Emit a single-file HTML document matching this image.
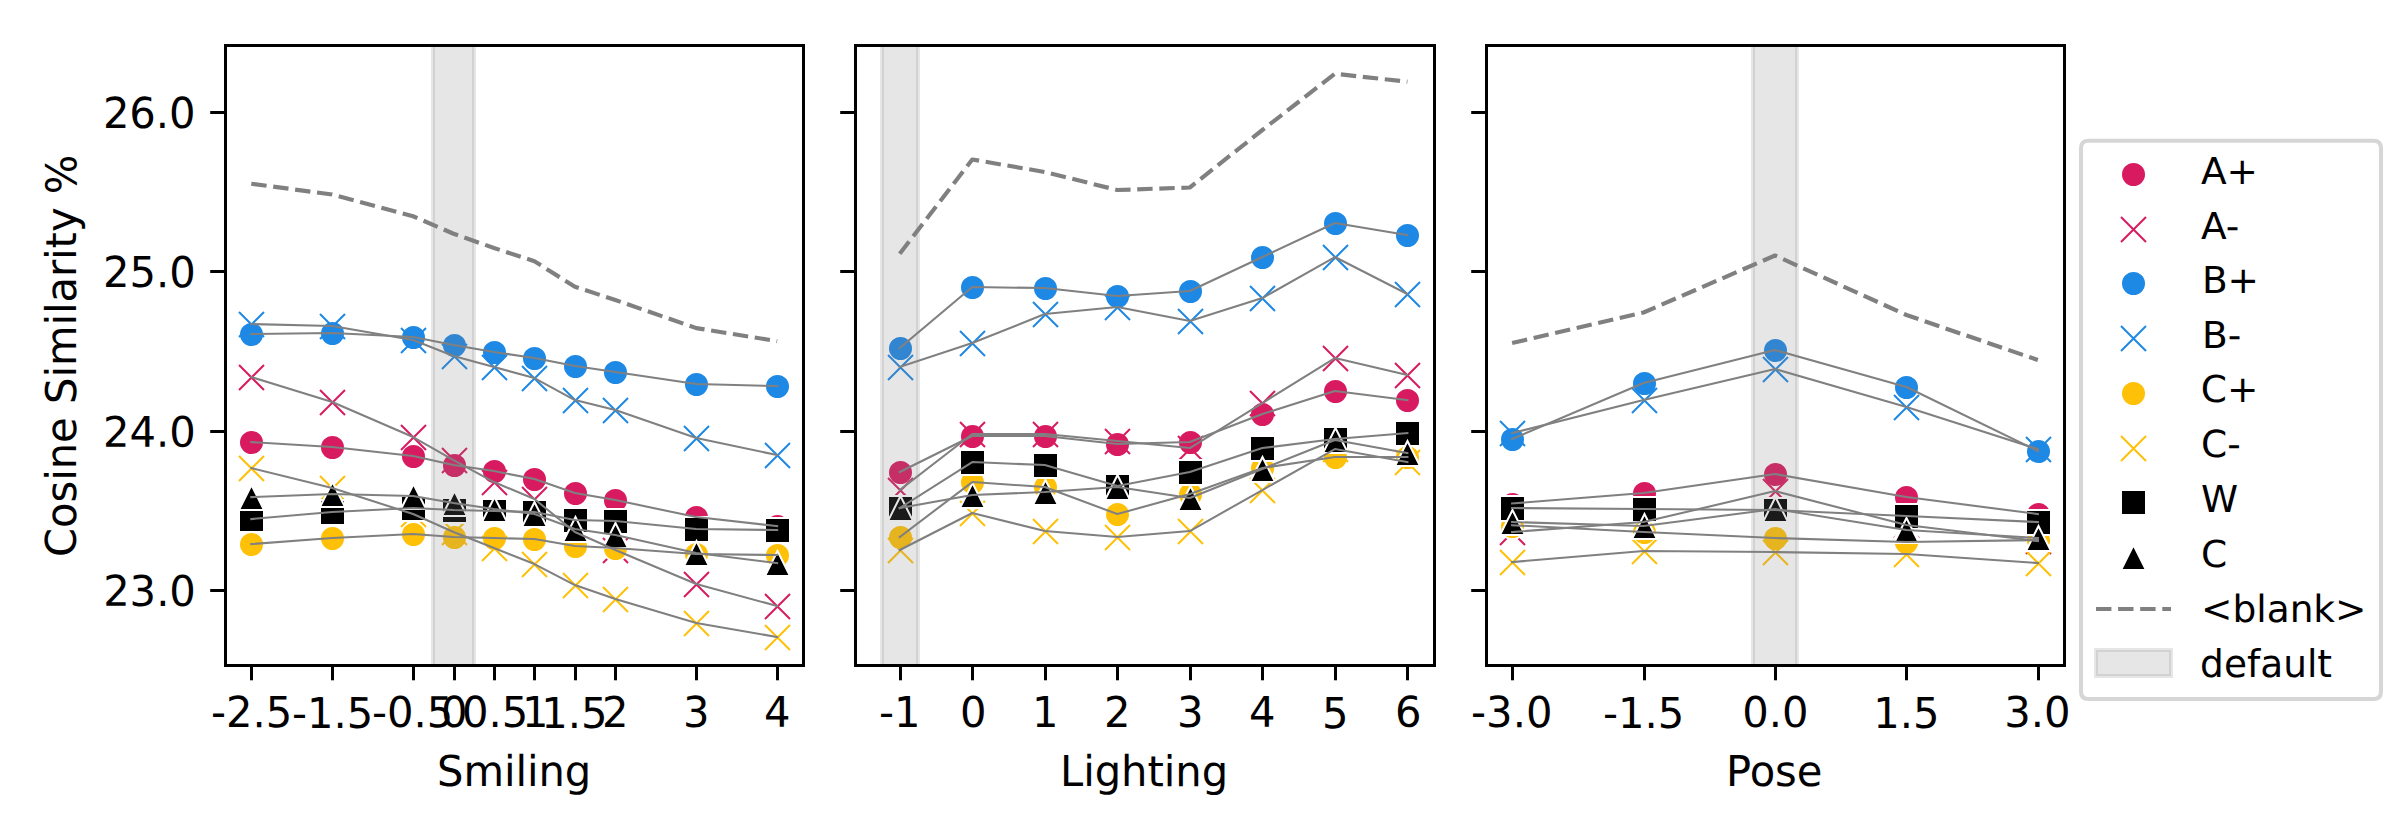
<!DOCTYPE html>
<html lang="en"><head><meta charset="utf-8"><title>Cosine Similarity</title>
<style>html,body{margin:0;padding:0;background:#fff}svg{display:block}text{font-family:"DejaVu Sans", "Liberation Sans", sans-serif;fill:#000}.t{font-size:41.67px}.l{font-size:37.5px}</style></head><body>
<svg width="2400" height="840" viewBox="0 0 2400 840">
<rect width="2400" height="840" fill="#fff"/>
<g id="panel1">
<clipPath id="cp0"><rect x="225.5" y="45.5" width="578.0" height="620.0"/></clipPath>
<g clip-path="url(#cp0)">
<circle cx="251.50" cy="442.50" r="12.5" fill="#D81B60" stroke="#fff" stroke-width="2.0"/>
<circle cx="332.50" cy="447.50" r="12.5" fill="#D81B60" stroke="#fff" stroke-width="2.0"/>
<circle cx="413.50" cy="456.50" r="12.5" fill="#D81B60" stroke="#fff" stroke-width="2.0"/>
<circle cx="454.50" cy="465.50" r="12.5" fill="#D81B60" stroke="#fff" stroke-width="2.0"/>
<circle cx="494.50" cy="471.50" r="12.5" fill="#D81B60" stroke="#fff" stroke-width="2.0"/>
<circle cx="534.50" cy="479.50" r="12.5" fill="#D81B60" stroke="#fff" stroke-width="2.0"/>
<circle cx="575.50" cy="493.50" r="12.5" fill="#D81B60" stroke="#fff" stroke-width="2.0"/>
<circle cx="615.50" cy="500.50" r="12.5" fill="#D81B60" stroke="#fff" stroke-width="2.0"/>
<circle cx="696.50" cy="517.50" r="12.5" fill="#D81B60" stroke="#fff" stroke-width="2.0"/>
<circle cx="777.50" cy="526.50" r="12.5" fill="#D81B60" stroke="#fff" stroke-width="2.0"/>
<path d="M239.00 365.00L264.00 390.00M239.00 390.00L264.00 365.00" fill="none" stroke="#D81B60" stroke-width="2.0"/>
<path d="M320.00 390.00L345.00 415.00M320.00 415.00L345.00 390.00" fill="none" stroke="#D81B60" stroke-width="2.0"/>
<path d="M401.00 425.00L426.00 450.00M401.00 450.00L426.00 425.00" fill="none" stroke="#D81B60" stroke-width="2.0"/>
<path d="M442.00 448.00L467.00 473.00M442.00 473.00L467.00 448.00" fill="none" stroke="#D81B60" stroke-width="2.0"/>
<path d="M482.00 470.00L507.00 495.00M482.00 495.00L507.00 470.00" fill="none" stroke="#D81B60" stroke-width="2.0"/>
<path d="M522.00 487.00L547.00 512.00M522.00 512.00L547.00 487.00" fill="none" stroke="#D81B60" stroke-width="2.0"/>
<path d="M563.00 520.00L588.00 545.00M563.00 545.00L588.00 520.00" fill="none" stroke="#D81B60" stroke-width="2.0"/>
<path d="M603.00 538.00L628.00 563.00M603.00 563.00L628.00 538.00" fill="none" stroke="#D81B60" stroke-width="2.0"/>
<path d="M684.00 572.00L709.00 597.00M684.00 597.00L709.00 572.00" fill="none" stroke="#D81B60" stroke-width="2.0"/>
<path d="M765.00 594.00L790.00 619.00M765.00 619.00L790.00 594.00" fill="none" stroke="#D81B60" stroke-width="2.0"/>
<circle cx="251.50" cy="334.50" r="12.5" fill="#1E88E5" stroke="#fff" stroke-width="2.0"/>
<circle cx="332.50" cy="333.50" r="12.5" fill="#1E88E5" stroke="#fff" stroke-width="2.0"/>
<circle cx="413.50" cy="337.50" r="12.5" fill="#1E88E5" stroke="#fff" stroke-width="2.0"/>
<circle cx="454.50" cy="345.50" r="12.5" fill="#1E88E5" stroke="#fff" stroke-width="2.0"/>
<circle cx="494.50" cy="352.50" r="12.5" fill="#1E88E5" stroke="#fff" stroke-width="2.0"/>
<circle cx="534.50" cy="358.50" r="12.5" fill="#1E88E5" stroke="#fff" stroke-width="2.0"/>
<circle cx="575.50" cy="366.50" r="12.5" fill="#1E88E5" stroke="#fff" stroke-width="2.0"/>
<circle cx="615.50" cy="372.50" r="12.5" fill="#1E88E5" stroke="#fff" stroke-width="2.0"/>
<circle cx="696.50" cy="384.50" r="12.5" fill="#1E88E5" stroke="#fff" stroke-width="2.0"/>
<circle cx="777.50" cy="386.50" r="12.5" fill="#1E88E5" stroke="#fff" stroke-width="2.0"/>
<path d="M239.00 312.00L264.00 337.00M239.00 337.00L264.00 312.00" fill="none" stroke="#1E88E5" stroke-width="2.0"/>
<path d="M320.00 314.00L345.00 339.00M320.00 339.00L345.00 314.00" fill="none" stroke="#1E88E5" stroke-width="2.0"/>
<path d="M401.00 328.00L426.00 353.00M401.00 353.00L426.00 328.00" fill="none" stroke="#1E88E5" stroke-width="2.0"/>
<path d="M442.00 344.00L467.00 369.00M442.00 369.00L467.00 344.00" fill="none" stroke="#1E88E5" stroke-width="2.0"/>
<path d="M482.00 355.00L507.00 380.00M482.00 380.00L507.00 355.00" fill="none" stroke="#1E88E5" stroke-width="2.0"/>
<path d="M522.00 366.00L547.00 391.00M522.00 391.00L547.00 366.00" fill="none" stroke="#1E88E5" stroke-width="2.0"/>
<path d="M563.00 388.00L588.00 413.00M563.00 413.00L588.00 388.00" fill="none" stroke="#1E88E5" stroke-width="2.0"/>
<path d="M603.00 398.00L628.00 423.00M603.00 423.00L628.00 398.00" fill="none" stroke="#1E88E5" stroke-width="2.0"/>
<path d="M684.00 426.00L709.00 451.00M684.00 451.00L709.00 426.00" fill="none" stroke="#1E88E5" stroke-width="2.0"/>
<path d="M765.00 443.00L790.00 468.00M765.00 468.00L790.00 443.00" fill="none" stroke="#1E88E5" stroke-width="2.0"/>
<circle cx="251.50" cy="544.50" r="12.5" fill="#FFC107" stroke="#fff" stroke-width="2.0"/>
<circle cx="332.50" cy="538.50" r="12.5" fill="#FFC107" stroke="#fff" stroke-width="2.0"/>
<circle cx="413.50" cy="534.50" r="12.5" fill="#FFC107" stroke="#fff" stroke-width="2.0"/>
<circle cx="454.50" cy="537.50" r="12.5" fill="#FFC107" stroke="#fff" stroke-width="2.0"/>
<circle cx="494.50" cy="538.50" r="12.5" fill="#FFC107" stroke="#fff" stroke-width="2.0"/>
<circle cx="534.50" cy="539.50" r="12.5" fill="#FFC107" stroke="#fff" stroke-width="2.0"/>
<circle cx="575.50" cy="546.50" r="12.5" fill="#FFC107" stroke="#fff" stroke-width="2.0"/>
<circle cx="615.50" cy="548.50" r="12.5" fill="#FFC107" stroke="#fff" stroke-width="2.0"/>
<circle cx="696.50" cy="554.50" r="12.5" fill="#FFC107" stroke="#fff" stroke-width="2.0"/>
<circle cx="777.50" cy="555.50" r="12.5" fill="#FFC107" stroke="#fff" stroke-width="2.0"/>
<path d="M239.00 456.00L264.00 481.00M239.00 481.00L264.00 456.00" fill="none" stroke="#FFC107" stroke-width="2.0"/>
<path d="M320.00 476.00L345.00 501.00M320.00 501.00L345.00 476.00" fill="none" stroke="#FFC107" stroke-width="2.0"/>
<path d="M401.00 502.00L426.00 527.00M401.00 527.00L426.00 502.00" fill="none" stroke="#FFC107" stroke-width="2.0"/>
<path d="M442.00 520.00L467.00 545.00M442.00 545.00L467.00 520.00" fill="none" stroke="#FFC107" stroke-width="2.0"/>
<path d="M482.00 536.00L507.00 561.00M482.00 561.00L507.00 536.00" fill="none" stroke="#FFC107" stroke-width="2.0"/>
<path d="M522.00 552.00L547.00 577.00M522.00 577.00L547.00 552.00" fill="none" stroke="#FFC107" stroke-width="2.0"/>
<path d="M563.00 573.00L588.00 598.00M563.00 598.00L588.00 573.00" fill="none" stroke="#FFC107" stroke-width="2.0"/>
<path d="M603.00 587.00L628.00 612.00M603.00 612.00L628.00 587.00" fill="none" stroke="#FFC107" stroke-width="2.0"/>
<path d="M684.00 611.00L709.00 636.00M684.00 636.00L709.00 611.00" fill="none" stroke="#FFC107" stroke-width="2.0"/>
<path d="M765.00 625.00L790.00 650.00M765.00 650.00L790.00 625.00" fill="none" stroke="#FFC107" stroke-width="2.0"/>
<rect x="239.00" y="507.00" width="25.0" height="25.0" fill="#000000" stroke="#fff" stroke-width="2.0"/>
<rect x="320.00" y="500.00" width="25.0" height="25.0" fill="#000000" stroke="#fff" stroke-width="2.0"/>
<rect x="401.00" y="496.00" width="25.0" height="25.0" fill="#000000" stroke="#fff" stroke-width="2.0"/>
<rect x="442.00" y="498.00" width="25.0" height="25.0" fill="#000000" stroke="#fff" stroke-width="2.0"/>
<rect x="482.00" y="499.00" width="25.0" height="25.0" fill="#000000" stroke="#fff" stroke-width="2.0"/>
<rect x="522.00" y="500.00" width="25.0" height="25.0" fill="#000000" stroke="#fff" stroke-width="2.0"/>
<rect x="563.00" y="508.00" width="25.0" height="25.0" fill="#000000" stroke="#fff" stroke-width="2.0"/>
<rect x="603.00" y="509.00" width="25.0" height="25.0" fill="#000000" stroke="#fff" stroke-width="2.0"/>
<rect x="684.00" y="517.00" width="25.0" height="25.0" fill="#000000" stroke="#fff" stroke-width="2.0"/>
<rect x="765.00" y="518.00" width="25.0" height="25.0" fill="#000000" stroke="#fff" stroke-width="2.0"/>
<path d="M251.50 485.00L239.00 510.00L264.00 510.00Z" fill="#000000" stroke="#fff" stroke-width="2.0" stroke-linejoin="miter"/>
<path d="M332.50 482.00L320.00 507.00L345.00 507.00Z" fill="#000000" stroke="#fff" stroke-width="2.0" stroke-linejoin="miter"/>
<path d="M413.50 484.00L401.00 509.00L426.00 509.00Z" fill="#000000" stroke="#fff" stroke-width="2.0" stroke-linejoin="miter"/>
<path d="M454.50 491.00L442.00 516.00L467.00 516.00Z" fill="#000000" stroke="#fff" stroke-width="2.0" stroke-linejoin="miter"/>
<path d="M494.50 497.00L482.00 522.00L507.00 522.00Z" fill="#000000" stroke="#fff" stroke-width="2.0" stroke-linejoin="miter"/>
<path d="M534.50 502.00L522.00 527.00L547.00 527.00Z" fill="#000000" stroke="#fff" stroke-width="2.0" stroke-linejoin="miter"/>
<path d="M575.50 517.00L563.00 542.00L588.00 542.00Z" fill="#000000" stroke="#fff" stroke-width="2.0" stroke-linejoin="miter"/>
<path d="M615.50 523.00L603.00 548.00L628.00 548.00Z" fill="#000000" stroke="#fff" stroke-width="2.0" stroke-linejoin="miter"/>
<path d="M696.50 541.00L684.00 566.00L709.00 566.00Z" fill="#000000" stroke="#fff" stroke-width="2.0" stroke-linejoin="miter"/>
<path d="M777.50 551.00L765.00 576.00L790.00 576.00Z" fill="#000000" stroke="#fff" stroke-width="2.0" stroke-linejoin="miter"/>
<rect x="433.00" y="35.5" width="41.00" height="640.0" fill="#808080" fill-opacity="0.2"/>
<rect x="433.00" y="35.5" width="41.00" height="640.0" fill="none" stroke="#808080" stroke-opacity="0.2" stroke-width="4"/>
<polyline points="251.30,442.05 332.20,447.05 413.10,456.05 453.55,465.05 494.00,471.05 534.45,479.05 574.90,493.05 615.35,500.05 696.25,517.05 777.15,526.05" fill="none" stroke="#808080" stroke-width="2.08" stroke-linejoin="round" stroke-linecap="square"/>
<polyline points="251.30,377.05 332.20,402.05 413.10,437.05 453.55,460.05 494.00,482.05 534.45,499.05 574.90,532.05 615.35,550.05 696.25,584.05 777.15,606.05" fill="none" stroke="#808080" stroke-width="2.08" stroke-linejoin="round" stroke-linecap="square"/>
<polyline points="251.30,334.05 332.20,333.05 413.10,337.05 453.55,345.05 494.00,352.05 534.45,358.05 574.90,366.05 615.35,372.05 696.25,384.05 777.15,386.05" fill="none" stroke="#808080" stroke-width="2.08" stroke-linejoin="round" stroke-linecap="square"/>
<polyline points="251.30,324.05 332.20,326.05 413.10,340.05 453.55,356.05 494.00,367.05 534.45,378.05 574.90,400.05 615.35,410.05 696.25,438.05 777.15,455.05" fill="none" stroke="#808080" stroke-width="2.08" stroke-linejoin="round" stroke-linecap="square"/>
<polyline points="251.30,544.05 332.20,538.05 413.10,534.05 453.55,537.05 494.00,538.05 534.45,539.05 574.90,546.05 615.35,548.05 696.25,554.05 777.15,555.05" fill="none" stroke="#808080" stroke-width="2.08" stroke-linejoin="round" stroke-linecap="square"/>
<polyline points="251.30,468.05 332.20,488.05 413.10,514.05 453.55,532.05 494.00,548.05 534.45,564.05 574.90,585.05 615.35,599.05 696.25,623.05 777.15,637.05" fill="none" stroke="#808080" stroke-width="2.08" stroke-linejoin="round" stroke-linecap="square"/>
<polyline points="251.30,519.05 332.20,512.05 413.10,508.05 453.55,510.05 494.00,511.05 534.45,512.05 574.90,520.05 615.35,521.05 696.25,529.05 777.15,530.05" fill="none" stroke="#808080" stroke-width="2.08" stroke-linejoin="round" stroke-linecap="square"/>
<polyline points="251.30,497.05 332.20,494.05 413.10,496.05 453.55,503.05 494.00,509.05 534.45,514.05 574.90,529.05 615.35,535.05 696.25,553.05 777.15,563.05" fill="none" stroke="#808080" stroke-width="2.08" stroke-linejoin="round" stroke-linecap="square"/>
<polyline points="251.30,183.75 332.20,194.50 413.10,216.25 453.55,233.75 494.00,248.00 534.45,261.25 574.90,286.75 615.35,300.00 696.25,328.10 777.15,341.10" fill="none" stroke="#808080" stroke-width="4.17" stroke-dasharray="15.42 6.67" stroke-linejoin="round"/>
</g>
<line x1="251.5" y1="665.5" x2="251.5" y2="680.3" stroke="#000" stroke-width="3"/>
<text class="t" transform="translate(211.03 727.11) rotate(0.05) scale(1 1.0293)" x="0 15 41.375 54.625">-2.5</text>
<line x1="332.5" y1="665.5" x2="332.5" y2="680.3" stroke="#000" stroke-width="3"/>
<text class="t" transform="translate(291.92 727.91) rotate(0.05) scale(1 1.0172)" x="0 15 41.5 54.75">-1.5</text>
<line x1="413.5" y1="665.5" x2="413.5" y2="680.3" stroke="#000" stroke-width="3"/>
<text class="t" transform="translate(372.04 727.11) rotate(0.05) scale(1 1.0208)" x="0 15 41.5 54.75">-0.5</text>
<line x1="454.5" y1="665.5" x2="454.5" y2="680.3" stroke="#000" stroke-width="3"/>
<text class="t" transform="translate(440.94 727.08) rotate(0.05) scale(1 1.0256)" x="0">0</text>
<line x1="494.5" y1="665.5" x2="494.5" y2="680.3" stroke="#000" stroke-width="3"/>
<text class="t" transform="translate(461.97 726.88) rotate(0.05) scale(1 1.0238)" x="0 26.5 39.75">0.5</text>
<line x1="534.5" y1="665.5" x2="534.5" y2="680.3" stroke="#000" stroke-width="3"/>
<text class="t" transform="translate(521.98 727.08) rotate(0.05) scale(1 1.0195)" x="0">1</text>
<line x1="575.5" y1="665.5" x2="575.5" y2="680.3" stroke="#000" stroke-width="3"/>
<text class="t" transform="translate(541.17 728.02) rotate(0.05) scale(1 1.0242)" x="0 26.5 39.75">1.5</text>
<line x1="615.5" y1="665.5" x2="615.5" y2="680.3" stroke="#000" stroke-width="3"/>
<text class="t" transform="translate(602.09 726.96) rotate(0.05) scale(1 1.0178)" x="0">2</text>
<line x1="696.5" y1="665.5" x2="696.5" y2="680.3" stroke="#000" stroke-width="3"/>
<text class="t" transform="translate(682.92 726.88) rotate(0.05) scale(1 1.0248)" x="0">3</text>
<line x1="777.5" y1="665.5" x2="777.5" y2="680.3" stroke="#000" stroke-width="3"/>
<text class="t" transform="translate(764.11 726.73) rotate(0.05) scale(1 1.0132)" x="0">4</text>
<line x1="225.5" y1="590.5" x2="210.2" y2="590.5" stroke="#000" stroke-width="3"/>
<text class="t" transform="translate(103.13 605.86) rotate(0.05) scale(1 1.0177)" x="0 26.375 53 66.25">23.0</text>
<line x1="225.5" y1="431.5" x2="210.2" y2="431.5" stroke="#000" stroke-width="3"/>
<text class="t" transform="translate(103.06 446.81) rotate(0.05) scale(1 1.0095)" x="0 26.375 52.875 66.125">24.0</text>
<line x1="225.5" y1="271.5" x2="210.2" y2="271.5" stroke="#000" stroke-width="3"/>
<text class="t" transform="translate(103.11 287.08) rotate(0.05) scale(1 1.0242)" x="0 26.375 52.875 66.125">25.0</text>
<line x1="225.5" y1="112.5" x2="210.2" y2="112.5" stroke="#000" stroke-width="3"/>
<text class="t" transform="translate(103.00 127.91) rotate(0.05) scale(1 1.0240)" x="0 26.375 52.875 66.125">26.0</text>
<rect x="225.5" y="45.5" width="578.0" height="620.0" fill="none" stroke="#000" stroke-width="3"/>
<text class="t" transform="translate(437.00 785.97) rotate(0.05) scale(1 1.0215)" x="0 26.5 67 78.5 90 101.5 127.875">Smiling</text>
<text class="t" transform="translate(75.85 557.08) rotate(-89.95) scale(1 1.0154)" x="0 29.125 54.5 76.25 87.75 114.125 139.75 153 179.5 191 231.5 243 254.5 280 297.125 308.625 325 349.625 362.875">Cosine Similarity %</text>
</g>
<g id="panel2">
<clipPath id="cp1"><rect x="855.5" y="45.5" width="579.0" height="620.0"/></clipPath>
<g clip-path="url(#cp1)">
<circle cx="900.50" cy="472.50" r="12.5" fill="#D81B60" stroke="#fff" stroke-width="2.0"/>
<circle cx="972.50" cy="436.50" r="12.5" fill="#D81B60" stroke="#fff" stroke-width="2.0"/>
<circle cx="1045.50" cy="436.50" r="12.5" fill="#D81B60" stroke="#fff" stroke-width="2.0"/>
<circle cx="1117.50" cy="444.50" r="12.5" fill="#D81B60" stroke="#fff" stroke-width="2.0"/>
<circle cx="1190.50" cy="442.50" r="12.5" fill="#D81B60" stroke="#fff" stroke-width="2.0"/>
<circle cx="1262.50" cy="414.50" r="12.5" fill="#D81B60" stroke="#fff" stroke-width="2.0"/>
<circle cx="1335.50" cy="391.50" r="12.5" fill="#D81B60" stroke="#fff" stroke-width="2.0"/>
<circle cx="1407.50" cy="400.50" r="12.5" fill="#D81B60" stroke="#fff" stroke-width="2.0"/>
<path d="M888.00 478.00L913.00 503.00M888.00 503.00L913.00 478.00" fill="none" stroke="#D81B60" stroke-width="2.0"/>
<path d="M960.00 422.00L985.00 447.00M960.00 447.00L985.00 422.00" fill="none" stroke="#D81B60" stroke-width="2.0"/>
<path d="M1033.00 422.00L1058.00 447.00M1033.00 447.00L1058.00 422.00" fill="none" stroke="#D81B60" stroke-width="2.0"/>
<path d="M1105.00 429.00L1130.00 454.00M1105.00 454.00L1130.00 429.00" fill="none" stroke="#D81B60" stroke-width="2.0"/>
<path d="M1178.00 436.00L1203.00 461.00M1178.00 461.00L1203.00 436.00" fill="none" stroke="#D81B60" stroke-width="2.0"/>
<path d="M1250.00 391.00L1275.00 416.00M1250.00 416.00L1275.00 391.00" fill="none" stroke="#D81B60" stroke-width="2.0"/>
<path d="M1323.00 346.00L1348.00 371.00M1323.00 371.00L1348.00 346.00" fill="none" stroke="#D81B60" stroke-width="2.0"/>
<path d="M1395.00 363.00L1420.00 388.00M1395.00 388.00L1420.00 363.00" fill="none" stroke="#D81B60" stroke-width="2.0"/>
<circle cx="900.50" cy="348.50" r="12.5" fill="#1E88E5" stroke="#fff" stroke-width="2.0"/>
<circle cx="972.50" cy="287.50" r="12.5" fill="#1E88E5" stroke="#fff" stroke-width="2.0"/>
<circle cx="1045.50" cy="288.50" r="12.5" fill="#1E88E5" stroke="#fff" stroke-width="2.0"/>
<circle cx="1117.50" cy="296.50" r="12.5" fill="#1E88E5" stroke="#fff" stroke-width="2.0"/>
<circle cx="1190.50" cy="291.50" r="12.5" fill="#1E88E5" stroke="#fff" stroke-width="2.0"/>
<circle cx="1262.50" cy="257.50" r="12.5" fill="#1E88E5" stroke="#fff" stroke-width="2.0"/>
<circle cx="1335.50" cy="223.50" r="12.5" fill="#1E88E5" stroke="#fff" stroke-width="2.0"/>
<circle cx="1407.50" cy="235.50" r="12.5" fill="#1E88E5" stroke="#fff" stroke-width="2.0"/>
<path d="M888.00 355.00L913.00 380.00M888.00 380.00L913.00 355.00" fill="none" stroke="#1E88E5" stroke-width="2.0"/>
<path d="M960.00 331.00L985.00 356.00M960.00 356.00L985.00 331.00" fill="none" stroke="#1E88E5" stroke-width="2.0"/>
<path d="M1033.00 302.00L1058.00 327.00M1033.00 327.00L1058.00 302.00" fill="none" stroke="#1E88E5" stroke-width="2.0"/>
<path d="M1105.00 295.00L1130.00 320.00M1105.00 320.00L1130.00 295.00" fill="none" stroke="#1E88E5" stroke-width="2.0"/>
<path d="M1178.00 309.00L1203.00 334.00M1178.00 334.00L1203.00 309.00" fill="none" stroke="#1E88E5" stroke-width="2.0"/>
<path d="M1250.00 286.00L1275.00 311.00M1250.00 311.00L1275.00 286.00" fill="none" stroke="#1E88E5" stroke-width="2.0"/>
<path d="M1323.00 245.00L1348.00 270.00M1323.00 270.00L1348.00 245.00" fill="none" stroke="#1E88E5" stroke-width="2.0"/>
<path d="M1395.00 282.00L1420.00 307.00M1395.00 307.00L1420.00 282.00" fill="none" stroke="#1E88E5" stroke-width="2.0"/>
<circle cx="900.50" cy="537.50" r="12.5" fill="#FFC107" stroke="#fff" stroke-width="2.0"/>
<circle cx="972.50" cy="482.50" r="12.5" fill="#FFC107" stroke="#fff" stroke-width="2.0"/>
<circle cx="1045.50" cy="487.50" r="12.5" fill="#FFC107" stroke="#fff" stroke-width="2.0"/>
<circle cx="1117.50" cy="514.50" r="12.5" fill="#FFC107" stroke="#fff" stroke-width="2.0"/>
<circle cx="1190.50" cy="494.50" r="12.5" fill="#FFC107" stroke="#fff" stroke-width="2.0"/>
<circle cx="1262.50" cy="468.50" r="12.5" fill="#FFC107" stroke="#fff" stroke-width="2.0"/>
<circle cx="1335.50" cy="457.50" r="12.5" fill="#FFC107" stroke="#fff" stroke-width="2.0"/>
<circle cx="1407.50" cy="457.50" r="12.5" fill="#FFC107" stroke="#fff" stroke-width="2.0"/>
<path d="M888.00 538.00L913.00 563.00M888.00 563.00L913.00 538.00" fill="none" stroke="#FFC107" stroke-width="2.0"/>
<path d="M960.00 501.00L985.00 526.00M960.00 526.00L985.00 501.00" fill="none" stroke="#FFC107" stroke-width="2.0"/>
<path d="M1033.00 519.00L1058.00 544.00M1033.00 544.00L1058.00 519.00" fill="none" stroke="#FFC107" stroke-width="2.0"/>
<path d="M1105.00 525.00L1130.00 550.00M1105.00 550.00L1130.00 525.00" fill="none" stroke="#FFC107" stroke-width="2.0"/>
<path d="M1178.00 519.00L1203.00 544.00M1178.00 544.00L1203.00 519.00" fill="none" stroke="#FFC107" stroke-width="2.0"/>
<path d="M1250.00 478.00L1275.00 503.00M1250.00 503.00L1275.00 478.00" fill="none" stroke="#FFC107" stroke-width="2.0"/>
<path d="M1323.00 437.00L1348.00 462.00M1323.00 462.00L1348.00 437.00" fill="none" stroke="#FFC107" stroke-width="2.0"/>
<path d="M1395.00 450.00L1420.00 475.00M1395.00 475.00L1420.00 450.00" fill="none" stroke="#FFC107" stroke-width="2.0"/>
<rect x="888.00" y="496.00" width="25.0" height="25.0" fill="#000000" stroke="#fff" stroke-width="2.0"/>
<rect x="960.00" y="450.00" width="25.0" height="25.0" fill="#000000" stroke="#fff" stroke-width="2.0"/>
<rect x="1033.00" y="453.00" width="25.0" height="25.0" fill="#000000" stroke="#fff" stroke-width="2.0"/>
<rect x="1105.00" y="474.00" width="25.0" height="25.0" fill="#000000" stroke="#fff" stroke-width="2.0"/>
<rect x="1178.00" y="460.00" width="25.0" height="25.0" fill="#000000" stroke="#fff" stroke-width="2.0"/>
<rect x="1250.00" y="436.00" width="25.0" height="25.0" fill="#000000" stroke="#fff" stroke-width="2.0"/>
<rect x="1323.00" y="427.00" width="25.0" height="25.0" fill="#000000" stroke="#fff" stroke-width="2.0"/>
<rect x="1395.00" y="421.00" width="25.0" height="25.0" fill="#000000" stroke="#fff" stroke-width="2.0"/>
<path d="M900.50 496.00L888.00 521.00L913.00 521.00Z" fill="#000000" stroke="#fff" stroke-width="2.0" stroke-linejoin="miter"/>
<path d="M972.50 483.00L960.00 508.00L985.00 508.00Z" fill="#000000" stroke="#fff" stroke-width="2.0" stroke-linejoin="miter"/>
<path d="M1045.50 480.00L1033.00 505.00L1058.00 505.00Z" fill="#000000" stroke="#fff" stroke-width="2.0" stroke-linejoin="miter"/>
<path d="M1117.50 475.00L1105.00 500.00L1130.00 500.00Z" fill="#000000" stroke="#fff" stroke-width="2.0" stroke-linejoin="miter"/>
<path d="M1190.50 486.00L1178.00 511.00L1203.00 511.00Z" fill="#000000" stroke="#fff" stroke-width="2.0" stroke-linejoin="miter"/>
<path d="M1262.50 457.00L1250.00 482.00L1275.00 482.00Z" fill="#000000" stroke="#fff" stroke-width="2.0" stroke-linejoin="miter"/>
<path d="M1335.50 428.00L1323.00 453.00L1348.00 453.00Z" fill="#000000" stroke="#fff" stroke-width="2.0" stroke-linejoin="miter"/>
<path d="M1407.50 441.00L1395.00 466.00L1420.00 466.00Z" fill="#000000" stroke="#fff" stroke-width="2.0" stroke-linejoin="miter"/>
<rect x="882.00" y="35.5" width="36.00" height="640.0" fill="#808080" fill-opacity="0.2"/>
<rect x="882.00" y="35.5" width="36.00" height="640.0" fill="none" stroke="#808080" stroke-opacity="0.2" stroke-width="4"/>
<polyline points="899.72,472.05 972.25,436.05 1044.77,436.05 1117.30,444.05 1189.83,442.05 1262.36,414.05 1334.88,391.05 1407.41,400.05" fill="none" stroke="#808080" stroke-width="2.08" stroke-linejoin="round" stroke-linecap="square"/>
<polyline points="899.72,490.05 972.25,434.05 1044.77,434.05 1117.30,441.05 1189.83,448.05 1262.36,403.05 1334.88,358.05 1407.41,375.05" fill="none" stroke="#808080" stroke-width="2.08" stroke-linejoin="round" stroke-linecap="square"/>
<polyline points="899.72,348.05 972.25,287.05 1044.77,288.05 1117.30,296.05 1189.83,291.05 1262.36,257.05 1334.88,223.05 1407.41,235.05" fill="none" stroke="#808080" stroke-width="2.08" stroke-linejoin="round" stroke-linecap="square"/>
<polyline points="899.72,367.05 972.25,343.05 1044.77,314.05 1117.30,307.05 1189.83,321.05 1262.36,298.05 1334.88,257.05 1407.41,294.05" fill="none" stroke="#808080" stroke-width="2.08" stroke-linejoin="round" stroke-linecap="square"/>
<polyline points="899.72,537.05 972.25,482.05 1044.77,487.05 1117.30,514.05 1189.83,494.05 1262.36,468.05 1334.88,457.05 1407.41,457.05" fill="none" stroke="#808080" stroke-width="2.08" stroke-linejoin="round" stroke-linecap="square"/>
<polyline points="899.72,550.05 972.25,513.05 1044.77,531.05 1117.30,537.05 1189.83,531.05 1262.36,490.05 1334.88,449.05 1407.41,462.05" fill="none" stroke="#808080" stroke-width="2.08" stroke-linejoin="round" stroke-linecap="square"/>
<polyline points="899.72,508.05 972.25,462.05 1044.77,465.05 1117.30,486.05 1189.83,472.05 1262.36,448.05 1334.88,439.05 1407.41,433.05" fill="none" stroke="#808080" stroke-width="2.08" stroke-linejoin="round" stroke-linecap="square"/>
<polyline points="899.72,508.05 972.25,495.05 1044.77,492.05 1117.30,487.05 1189.83,498.05 1262.36,469.05 1334.88,440.05 1407.41,453.05" fill="none" stroke="#808080" stroke-width="2.08" stroke-linejoin="round" stroke-linecap="square"/>
<polyline points="899.72,253.75 972.25,159.50 1044.77,172.00 1117.30,190.00 1189.83,187.50 1262.36,130.00 1334.88,73.75 1407.41,81.75" fill="none" stroke="#808080" stroke-width="4.17" stroke-dasharray="15.42 6.67" stroke-linejoin="round"/>
</g>
<line x1="900.5" y1="665.5" x2="900.5" y2="680.3" stroke="#000" stroke-width="3"/>
<text class="t" transform="translate(879.04 727.00) rotate(0.05) scale(1 1.0180)" x="0 15">-1</text>
<line x1="972.5" y1="665.5" x2="972.5" y2="680.3" stroke="#000" stroke-width="3"/>
<text class="t" transform="translate(959.94 727.08) rotate(0.05) scale(1 1.0226)" x="0">0</text>
<line x1="1045.5" y1="665.5" x2="1045.5" y2="680.3" stroke="#000" stroke-width="3"/>
<text class="t" transform="translate(1031.98 727.08) rotate(0.05) scale(1 1.0195)" x="0">1</text>
<line x1="1117.5" y1="665.5" x2="1117.5" y2="680.3" stroke="#000" stroke-width="3"/>
<text class="t" transform="translate(1104.09 726.96) rotate(0.05) scale(1 1.0178)" x="0">2</text>
<line x1="1190.5" y1="665.5" x2="1190.5" y2="680.3" stroke="#000" stroke-width="3"/>
<text class="t" transform="translate(1176.92 726.88) rotate(0.05) scale(1 1.0248)" x="0">3</text>
<line x1="1262.5" y1="665.5" x2="1262.5" y2="680.3" stroke="#000" stroke-width="3"/>
<text class="t" transform="translate(1249.11 726.73) rotate(0.05) scale(1 1.0132)" x="0">4</text>
<line x1="1335.5" y1="665.5" x2="1335.5" y2="680.3" stroke="#000" stroke-width="3"/>
<text class="t" transform="translate(1322.12 728.19) rotate(0.05) scale(1 1.0286)" x="0">5</text>
<line x1="1407.5" y1="665.5" x2="1407.5" y2="680.3" stroke="#000" stroke-width="3"/>
<text class="t" transform="translate(1395.06 726.69) rotate(0.05) scale(1 1.0191)" x="0">6</text>
<line x1="855.5" y1="590.5" x2="840.2" y2="590.5" stroke="#000" stroke-width="3"/>
<line x1="855.5" y1="431.5" x2="840.2" y2="431.5" stroke="#000" stroke-width="3"/>
<line x1="855.5" y1="271.5" x2="840.2" y2="271.5" stroke="#000" stroke-width="3"/>
<line x1="855.5" y1="112.5" x2="840.2" y2="112.5" stroke="#000" stroke-width="3"/>
<rect x="855.5" y="45.5" width="579.0" height="620.0" fill="none" stroke="#000" stroke-width="3"/>
<text class="t" transform="translate(1059.92 786.07) rotate(0.05) scale(1 1.0192)" x="0 23.25 34.75 61.125 87.5 103.875 115.375 141.75">Lighting</text>
</g>
<g id="panel3">
<clipPath id="cp2"><rect x="1486.5" y="45.5" width="578.0" height="620.0"/></clipPath>
<g clip-path="url(#cp2)">
<circle cx="1512.50" cy="504.50" r="12.5" fill="#D81B60" stroke="#fff" stroke-width="2.0"/>
<circle cx="1644.50" cy="493.50" r="12.5" fill="#D81B60" stroke="#fff" stroke-width="2.0"/>
<circle cx="1775.50" cy="474.50" r="12.5" fill="#D81B60" stroke="#fff" stroke-width="2.0"/>
<circle cx="1906.50" cy="497.50" r="12.5" fill="#D81B60" stroke="#fff" stroke-width="2.0"/>
<circle cx="2038.50" cy="514.50" r="12.5" fill="#D81B60" stroke="#fff" stroke-width="2.0"/>
<path d="M1500.00 520.00L1525.00 545.00M1500.00 545.00L1525.00 520.00" fill="none" stroke="#D81B60" stroke-width="2.0"/>
<path d="M1632.00 510.00L1657.00 535.00M1632.00 535.00L1657.00 510.00" fill="none" stroke="#D81B60" stroke-width="2.0"/>
<path d="M1763.00 479.00L1788.00 504.00M1763.00 504.00L1788.00 479.00" fill="none" stroke="#D81B60" stroke-width="2.0"/>
<path d="M1894.00 513.00L1919.00 538.00M1894.00 538.00L1919.00 513.00" fill="none" stroke="#D81B60" stroke-width="2.0"/>
<path d="M2026.00 529.00L2051.00 554.00M2026.00 554.00L2051.00 529.00" fill="none" stroke="#D81B60" stroke-width="2.0"/>
<circle cx="1512.50" cy="439.50" r="12.5" fill="#1E88E5" stroke="#fff" stroke-width="2.0"/>
<circle cx="1644.50" cy="383.50" r="12.5" fill="#1E88E5" stroke="#fff" stroke-width="2.0"/>
<circle cx="1775.50" cy="350.50" r="12.5" fill="#1E88E5" stroke="#fff" stroke-width="2.0"/>
<circle cx="1906.50" cy="387.50" r="12.5" fill="#1E88E5" stroke="#fff" stroke-width="2.0"/>
<circle cx="2038.50" cy="451.50" r="12.5" fill="#1E88E5" stroke="#fff" stroke-width="2.0"/>
<path d="M1500.00 421.00L1525.00 446.00M1500.00 446.00L1525.00 421.00" fill="none" stroke="#1E88E5" stroke-width="2.0"/>
<path d="M1632.00 388.00L1657.00 413.00M1632.00 413.00L1657.00 388.00" fill="none" stroke="#1E88E5" stroke-width="2.0"/>
<path d="M1763.00 357.00L1788.00 382.00M1763.00 382.00L1788.00 357.00" fill="none" stroke="#1E88E5" stroke-width="2.0"/>
<path d="M1894.00 395.00L1919.00 420.00M1894.00 420.00L1919.00 395.00" fill="none" stroke="#1E88E5" stroke-width="2.0"/>
<path d="M2026.00 437.00L2051.00 462.00M2026.00 462.00L2051.00 437.00" fill="none" stroke="#1E88E5" stroke-width="2.0"/>
<circle cx="1512.50" cy="526.50" r="12.5" fill="#FFC107" stroke="#fff" stroke-width="2.0"/>
<circle cx="1644.50" cy="532.50" r="12.5" fill="#FFC107" stroke="#fff" stroke-width="2.0"/>
<circle cx="1775.50" cy="538.50" r="12.5" fill="#FFC107" stroke="#fff" stroke-width="2.0"/>
<circle cx="1906.50" cy="542.50" r="12.5" fill="#FFC107" stroke="#fff" stroke-width="2.0"/>
<circle cx="2038.50" cy="540.50" r="12.5" fill="#FFC107" stroke="#fff" stroke-width="2.0"/>
<path d="M1500.00 550.00L1525.00 575.00M1500.00 575.00L1525.00 550.00" fill="none" stroke="#FFC107" stroke-width="2.0"/>
<path d="M1632.00 539.00L1657.00 564.00M1632.00 564.00L1657.00 539.00" fill="none" stroke="#FFC107" stroke-width="2.0"/>
<path d="M1763.00 540.00L1788.00 565.00M1763.00 565.00L1788.00 540.00" fill="none" stroke="#FFC107" stroke-width="2.0"/>
<path d="M1894.00 542.00L1919.00 567.00M1894.00 567.00L1919.00 542.00" fill="none" stroke="#FFC107" stroke-width="2.0"/>
<path d="M2026.00 551.00L2051.00 576.00M2026.00 576.00L2051.00 551.00" fill="none" stroke="#FFC107" stroke-width="2.0"/>
<rect x="1500.00" y="496.00" width="25.0" height="25.0" fill="#000000" stroke="#fff" stroke-width="2.0"/>
<rect x="1632.00" y="497.00" width="25.0" height="25.0" fill="#000000" stroke="#fff" stroke-width="2.0"/>
<rect x="1763.00" y="498.00" width="25.0" height="25.0" fill="#000000" stroke="#fff" stroke-width="2.0"/>
<rect x="1894.00" y="504.00" width="25.0" height="25.0" fill="#000000" stroke="#fff" stroke-width="2.0"/>
<rect x="2026.00" y="510.00" width="25.0" height="25.0" fill="#000000" stroke="#fff" stroke-width="2.0"/>
<path d="M1512.50 510.00L1500.00 535.00L1525.00 535.00Z" fill="#000000" stroke="#fff" stroke-width="2.0" stroke-linejoin="miter"/>
<path d="M1644.50 514.00L1632.00 539.00L1657.00 539.00Z" fill="#000000" stroke="#fff" stroke-width="2.0" stroke-linejoin="miter"/>
<path d="M1775.50 497.00L1763.00 522.00L1788.00 522.00Z" fill="#000000" stroke="#fff" stroke-width="2.0" stroke-linejoin="miter"/>
<path d="M1906.50 518.00L1894.00 543.00L1919.00 543.00Z" fill="#000000" stroke="#fff" stroke-width="2.0" stroke-linejoin="miter"/>
<path d="M2038.50 526.00L2026.00 551.00L2051.00 551.00Z" fill="#000000" stroke="#fff" stroke-width="2.0" stroke-linejoin="miter"/>
<rect x="1753.00" y="35.5" width="44.00" height="640.0" fill="#808080" fill-opacity="0.2"/>
<rect x="1753.00" y="35.5" width="44.00" height="640.0" fill="none" stroke="#808080" stroke-opacity="0.2" stroke-width="4"/>
<polyline points="1512.11,503.50 1643.56,493.05 1775.00,474.05 1906.44,497.05 2037.89,514.05" fill="none" stroke="#808080" stroke-width="2.08" stroke-linejoin="round" stroke-linecap="square"/>
<polyline points="1512.11,532.05 1643.56,522.05 1775.00,491.05 1906.44,525.05 2037.89,541.05" fill="none" stroke="#808080" stroke-width="2.08" stroke-linejoin="round" stroke-linecap="square"/>
<polyline points="1512.11,439.05 1643.56,383.05 1775.00,350.05 1906.44,387.05 2037.89,451.05" fill="none" stroke="#808080" stroke-width="2.08" stroke-linejoin="round" stroke-linecap="square"/>
<polyline points="1512.11,433.05 1643.56,400.05 1775.00,369.05 1906.44,407.05 2037.89,449.05" fill="none" stroke="#808080" stroke-width="2.08" stroke-linejoin="round" stroke-linecap="square"/>
<polyline points="1512.11,525.20 1643.56,532.05 1775.00,538.05 1906.44,542.05 2037.89,540.05" fill="none" stroke="#808080" stroke-width="2.08" stroke-linejoin="round" stroke-linecap="square"/>
<polyline points="1512.11,562.05 1643.56,551.05 1775.00,552.05 1906.44,554.05 2037.89,563.05" fill="none" stroke="#808080" stroke-width="2.08" stroke-linejoin="round" stroke-linecap="square"/>
<polyline points="1512.11,508.05 1643.56,509.05 1775.00,510.05 1906.44,516.05 2037.89,522.05" fill="none" stroke="#808080" stroke-width="2.08" stroke-linejoin="round" stroke-linecap="square"/>
<polyline points="1512.11,522.05 1643.56,526.05 1775.00,509.05 1906.44,530.05 2037.89,538.05" fill="none" stroke="#808080" stroke-width="2.08" stroke-linejoin="round" stroke-linecap="square"/>
<polyline points="1512.11,343.00 1643.56,312.50 1775.00,255.50 1906.44,315.00 2037.89,360.00" fill="none" stroke="#808080" stroke-width="4.17" stroke-dasharray="15.42 6.67" stroke-linejoin="round"/>
</g>
<line x1="1512.5" y1="665.5" x2="1512.5" y2="680.3" stroke="#000" stroke-width="3"/>
<text class="t" transform="translate(1471.04 727.11) rotate(0.05) scale(1 1.0278)" x="0 15 41.625 54.875">-3.0</text>
<line x1="1644.5" y1="665.5" x2="1644.5" y2="680.3" stroke="#000" stroke-width="3"/>
<text class="t" transform="translate(1602.92 727.91) rotate(0.05) scale(1 1.0202)" x="0 15 41.5 54.75">-1.5</text>
<line x1="1775.5" y1="665.5" x2="1775.5" y2="680.3" stroke="#000" stroke-width="3"/>
<text class="t" transform="translate(1742.22 726.88) rotate(0.05) scale(1 1.0168)" x="0 26.5 39.75">0.0</text>
<line x1="1906.5" y1="665.5" x2="1906.5" y2="680.3" stroke="#000" stroke-width="3"/>
<text class="t" transform="translate(1873.17 728.02) rotate(0.05) scale(1 1.0242)" x="0 26.5 39.75">1.5</text>
<line x1="2038.5" y1="665.5" x2="2038.5" y2="680.3" stroke="#000" stroke-width="3"/>
<text class="t" transform="translate(2004.25 726.88) rotate(0.05) scale(1 1.0224)" x="0 26.625 39.875">3.0</text>
<line x1="1486.5" y1="590.5" x2="1471.2" y2="590.5" stroke="#000" stroke-width="3"/>
<line x1="1486.5" y1="431.5" x2="1471.2" y2="431.5" stroke="#000" stroke-width="3"/>
<line x1="1486.5" y1="271.5" x2="1471.2" y2="271.5" stroke="#000" stroke-width="3"/>
<line x1="1486.5" y1="112.5" x2="1471.2" y2="112.5" stroke="#000" stroke-width="3"/>
<rect x="1486.5" y="45.5" width="578.0" height="620.0" fill="none" stroke="#000" stroke-width="3"/>
<text class="t" transform="translate(1726.12 786.02) rotate(0.05) scale(1 1.0211)" x="0 23.625 49 70.75">Pose</text>
</g>
<g id="legend">
<path d="M2088.5 140.83L2373.5 140.83Q2381.0 140.83 2381.0 148.33L2381.0 691.45Q2381.0 698.95 2373.5 698.95L2088.5 698.95Q2081.0 698.95 2081.0 691.45L2081.0 148.33Q2081.0 140.83 2088.5 140.83Z" fill="#fff" fill-opacity="0.8" stroke="#ccc" stroke-opacity="0.8" stroke-width="4.05"/>
<circle cx="2133.50" cy="174.50" r="12.5" fill="#D81B60" stroke="#fff" stroke-width="2.0"/>
<text class="l" transform="translate(2200.92 183.88) rotate(0.05) scale(1 0.9865)" x="0 25.625">A+</text>
<path d="M2121.00 217.00L2146.00 242.00M2121.00 242.00L2146.00 217.00" fill="none" stroke="#D81B60" stroke-width="2.0"/>
<text class="l" transform="translate(2200.89 239.07) rotate(0.05) scale(1 0.9914)" x="0 24.75">A-</text>
<circle cx="2133.50" cy="283.50" r="12.5" fill="#1E88E5" stroke="#fff" stroke-width="2.0"/>
<text class="l" transform="translate(2201.99 292.89) rotate(0.05) scale(1 0.9931)" x="0 25.625">B+</text>
<path d="M2121.00 326.00L2146.00 351.00M2121.00 351.00L2146.00 326.00" fill="none" stroke="#1E88E5" stroke-width="2.0"/>
<text class="l" transform="translate(2202.09 347.93) rotate(0.05) scale(1 0.9912)" x="0 25.625">B-</text>
<circle cx="2133.50" cy="393.50" r="12.5" fill="#FFC107" stroke="#fff" stroke-width="2.0"/>
<text class="l" transform="translate(2200.72 402.01) rotate(0.05) scale(1 0.9857)" x="0 26.25">C+</text>
<path d="M2121.00 436.00L2146.00 461.00M2121.00 461.00L2146.00 436.00" fill="none" stroke="#FFC107" stroke-width="2.0"/>
<text class="l" transform="translate(2200.91 456.91) rotate(0.05) scale(1 0.9934)" x="0 26.25">C-</text>
<rect x="2121.00" y="490.00" width="25.0" height="25.0" fill="#000000" stroke="#fff" stroke-width="2.0"/>
<text class="l" transform="translate(2201.04 512.11) rotate(0.05) scale(1 0.9896)" x="0">W</text>
<path d="M2133.50 545.00L2121.00 570.00L2146.00 570.00Z" fill="#000000" stroke="#fff" stroke-width="2.0" stroke-linejoin="miter"/>
<text class="l" transform="translate(2200.91 566.90) rotate(0.05) scale(1 0.9916)" x="0">C</text>
<line x1="2096" y1="609.00" x2="2171" y2="609.00" stroke="#808080" stroke-width="4.17" stroke-dasharray="15.42 6.67"/>
<text class="l" transform="translate(2201.11 621.87) rotate(0.05) scale(1 1.0044)" x="0 31.5 55.25 65.625 88.625 112.25 133.875">&lt;blank&gt;</text>
<rect x="2096" y="650" width="75" height="26" fill="#808080" fill-opacity="0.2"/>
<rect x="2096" y="650" width="75" height="26" fill="none" stroke="#808080" stroke-opacity="0.2" stroke-width="4"/>
<text class="l" transform="translate(2200.06 676.99) rotate(0.05) scale(1 1.0228)" x="0 23.875 47 60.25 83.25 106.875 117.25">default</text>
</g>
</svg></body></html>
